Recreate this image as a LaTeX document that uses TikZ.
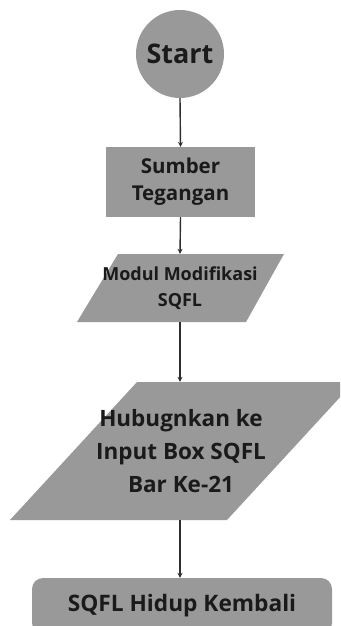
\documentclass[tikz,border=0pt]{standalone}
\usepackage{fontspec}
\setmainfont{Open Sans}
\usetikzlibrary{arrows.meta}
\definecolor{boxgray}{HTML}{999999}
\definecolor{txt}{HTML}{1A1A1A}
\definecolor{arr}{HTML}{2E2E2E}
\tikzset{
  shapefill/.style={fill=boxgray, draw=none},
  lbl/.style={text=txt, font=\bfseries, align=center, inner sep=0pt},
  conn/.style={draw=arr, line width=1.4pt, -{Stealth[length=5pt,width=5pt]}},
}
\begin{document}
\begin{tikzpicture}[x=1pt,y=-1pt]
\useasboundingbox (0,0) rectangle (340,626);
\clip (0,0) rectangle (340,626);
% start circle
\node[circle, shapefill, minimum size=88pt, inner sep=0pt, lbl, font=\bfseries\fontsize{27}{30}\selectfont] (start) at (180,54) {Start};
% rectangle
\node[rectangle, shapefill, minimum width=149pt, minimum height=70pt, lbl, font=\bfseries\fontsize{20.5}{27}\selectfont] (src) at (180.5,182) {Sumber\\Tegangan};
% parallelogram 1
\fill[boxgray] (118,254) -- (284,254) -- (246,322) -- (77,322) -- cycle;
\node[rectangle, minimum width=100pt, minimum height=68pt, lbl, font=\bfseries\fontsize{18}{26}\selectfont] (mod) at (180,288) {Modul Modifikasi\\SQFL};
% parallelogram 2
\fill[boxgray] (137,382) -- (354,382) -- (227,520) -- (10,520) -- cycle;
\node[rectangle, minimum width=100pt, minimum height=138pt, lbl, font=\bfseries\fontsize{22.5}{33}\selectfont] (hub) at (181,451) {Hubugnkan ke\\Input Box SQFL\\Bar Ke-21};
% rounded end
\node[rectangle, rounded corners=11pt, shapefill, minimum width=300pt, minimum height=56pt, lbl, font=\bfseries\fontsize{22.7}{26}\selectfont] (end) at (182,606) {SQFL Hidup Kembali};
% connectors
\draw[conn] (start.south) -- (src.north);
\draw[conn] (src.south) -- (mod.north);
\draw[conn] (mod.south) -- (mod.south |- hub.north);
\draw[conn] (hub.south -| mod.south) -- (end.north -| mod.south);
\end{tikzpicture}
\end{document}
